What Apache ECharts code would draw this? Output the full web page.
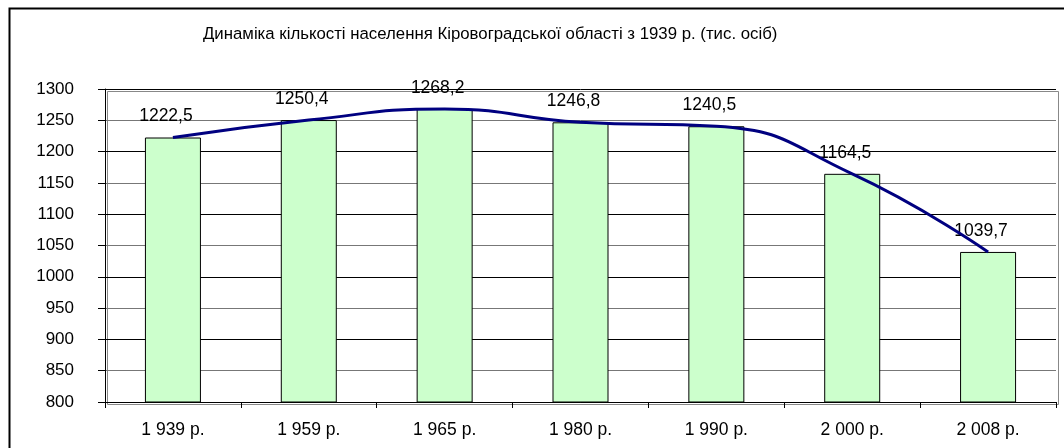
<!DOCTYPE html>
<html>
<head>
<meta charset="utf-8">
<script src="https://cdn.jsdelivr.net/npm/echarts@6/dist/echarts.min.js"></script>
<style>
html,body{margin:0;padding:0;background:#fff;}
#chart{width:1064px;height:448px;}
</style>
</head>
<body>
<div id="chart"></div>
<script>
const titleText = 'Динаміка кількості населення Кіровоградської області з 1939 р. (тис. осіб)';
const categories = ['1 939 р.', '1 959 р.', '1 965 р.', '1 980 р.', '1 990 р.', '2 000 р.', '2 008 р.'];
const population = [1222.5, 1250.4, 1268.2, 1246.8, 1240.5, 1164.5, 1039.7];
const yMin = 800, yMax = 1300, yStep = 50;

const chart = echarts.init(document.getElementById('chart'), null, {renderer: 'canvas'});
const fontFam = '"Liberation Sans", Arial, sans-serif';
chart.setOption({
  animation: false,
  backgroundColor: '#fff',
  title: {
    text: titleText,
    left: 198, top: 21,
    textStyle: {fontFamily: fontFam, fontSize: 16.8, fontWeight: 'normal', color: '#000'}
  },
  graphic: [{
    type: 'rect', left: 7, top: 6, silent: true,
    shape: {x: 0, y: 0, width: 1070, height: 460},
    style: {fill: 'none', stroke: '#000', lineWidth: 2}
  }, {
    type: 'rect', left: 105, top: 89, silent: true, z: 0,
    shape: {x: 0, y: 0, width: 951, height: 313},
    style: {fill: 'none', stroke: '#888', lineWidth: 1}
  }],
  grid: {left: 105, right: 8, top: 89, bottom: 46},
  xAxis: {
    type: 'category', data: categories, boundaryGap: true,
    axisLine: {lineStyle: {color: '#000', width: 1}},
    axisTick: {show: true, length: 6, inside: false, lineStyle: {color: '#000'}},
    axisLabel: {color: '#000', fontFamily: fontFam, fontSize: 17.5, margin: 19}
  },
  yAxis: {
    type: 'value', min: yMin, max: yMax, interval: yStep,
    axisLine: {show: true, lineStyle: {color: '#000', width: 1}},
    axisTick: {show: true, length: 7, lineStyle: {color: '#000'}},
    axisLabel: {color: '#000', fontFamily: fontFam, fontSize: 17, margin: 31,
      formatter: v => String(v)},
    splitLine: {show: true, lineStyle: {color: ['#000', '#777'], width: 1}}
  },
  series: [{
    type: 'bar', data: population, barWidth: 56,
    itemStyle: {color: '#ccffcc', borderColor: '#000', borderWidth: 1},
    label: {show: true, position: 'top', distance: 12, offset: [-7, 0],
      color: '#000', fontFamily: fontFam, fontSize: 17.5,
      formatter: p => String(p.value).replace('.', ',')}
  }, {
    type: 'line', data: population, smooth: 0.5, symbol: 'none',
    lineStyle: {color: '#000080', width: 3}, z: 5
  }]
});
</script>
</body>
</html>
